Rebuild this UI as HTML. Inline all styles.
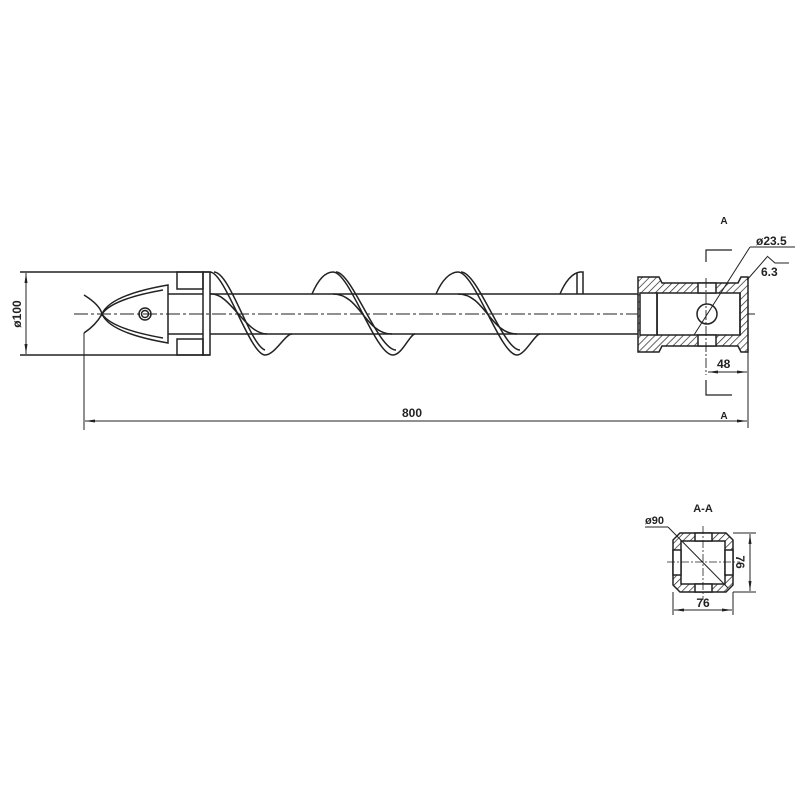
<!DOCTYPE html>
<html><head><style>body{margin:0;background:#fff}svg{display:block}</style></head><body>
<svg width="800" height="800" viewBox="0 0 800 800" xmlns="http://www.w3.org/2000/svg" font-family="Liberation Sans, sans-serif">
<defs>
<pattern id="h" width="5" height="5" patternUnits="userSpaceOnUse" patternTransform="rotate(45)"><rect width="5" height="5" fill="#fff"/><line x1="0" y1="0" x2="0" y2="5" stroke="#222" stroke-width="1.4"/></pattern>
<marker id="a" markerWidth="10" markerHeight="6" refX="10" refY="3" orient="auto-start-reverse" markerUnits="userSpaceOnUse"><path d="M0,1.5 L10,3 L0,4.5" fill="#222"/></marker>
</defs>
<g stroke="#222" stroke-width="1.5" fill="none">
<line x1="74" y1="314" x2="755" y2="314" stroke-dasharray="14,3,3,3" stroke-width="0.9"/>
<line x1="20" y1="272" x2="210" y2="272"/>
<line x1="20" y1="355" x2="210" y2="355"/>
<line x1="26" y1="273" x2="26" y2="354" marker-start="url(#a)" marker-end="url(#a)" stroke-width="1"/>
<path d="M84,295 Q100,305 102,314 Q110,295 168,285 L168,343 Q110,333 102,314 Q96,325 84,333"/>
<path d="M102,314 Q112,299 163,290 M102,314 Q112,329 163,338"/>
<circle cx="145" cy="314" r="6"/><circle cx="145" cy="314" r="3.5"/>
<rect x="177" y="272" width="26" height="17"/>
<rect x="177" y="339" width="26" height="16"/>
<line x1="168" y1="294" x2="203" y2="294"/><line x1="168" y1="334" x2="203" y2="334"/>
<rect x="203" y="272" width="7" height="83"/>
<line x1="210" y1="294" x2="638" y2="294"/><line x1="210" y1="334" x2="638" y2="334"/>
<path d="M210,272 C225,272 250,355 265,355 C275,355 285,334 292,334"/>
<path d="M214,272 C230,272 250,345 265,350"/>
<path d="M210,294 C230,292 245,334 267,334"/>
<path d="M312,294 C318,280 325,272 333,272 C350,272 375,355 393,355 C402,355 410,334 415,334"/>
<path d="M336,272 C352,272 378,350 396,350"/>
<path d="M333,294 C360,294 365,334 392,334"/>
<path d="M436,294 C442,280 450,272 458,272 C475,272 500,355 517,355 C525,355 535,334 540,334"/>
<path d="M461,272 C478,272 503,350 520,350"/>
<path d="M458,294 C485,294 490,334 517,334"/>
<path d="M560,294 C565,282 572,273 580,272 L583,272 L583,294 M577,273 L577,294"/>
<path d="M638,277 L659,277 L662,283 L738,283 L741,277 L748,277 L748,352 L741,352 L738,346 L662,346 L659,352 L638,352 Z" fill="url(#h)"/>
<rect x="657" y="293" width="83" height="42" fill="#fff"/>
<rect x="640" y="293" width="17" height="42" fill="#fff"/>
<line x1="657" y1="293" x2="657" y2="335"/>
<rect x="698" y="283" width="18" height="10" fill="#fff"/>
<rect x="698" y="335" width="18" height="11" fill="#fff"/>
<line x1="740" y1="293" x2="740" y2="335"/>
<circle cx="707" cy="314" r="10"/>
<line x1="706" y1="278" x2="706" y2="375" stroke-dasharray="10,2,2,2" stroke-width="0.9"/>
<line x1="694" y1="335" x2="750" y2="247" stroke-width="1"/>
<line x1="750" y1="247" x2="795" y2="247" stroke-width="1"/>
<line x1="747" y1="280" x2="767" y2="257" stroke-width="1"/>
<path d="M767,256 L775,263 L789,263" stroke-width="1"/>
<path d="M706,262 L706,250 L732,250" stroke-width="1.2"/>
<path d="M706,380 L706,395 L732,395" stroke-width="1.2"/>
<line x1="748" y1="352" x2="748" y2="428" stroke-width="1"/>
<line x1="84" y1="333" x2="84" y2="430" stroke-width="1"/>
<line x1="708" y1="372" x2="747" y2="372" marker-start="url(#a)" marker-end="url(#a)" stroke-width="1"/>
<line x1="85" y1="421" x2="747" y2="421" marker-start="url(#a)" marker-end="url(#a)" stroke-width="1"/>
<path d="M680,533 L726,533 L733,540 L733,585 L726,592 L680,592 L673,585 L673,540 Z" fill="url(#h)"/>
<rect x="681" y="541" width="44" height="43" fill="#fff"/>
<rect x="695" y="533" width="17" height="8" fill="#fff"/>
<rect x="695" y="584" width="17" height="8" fill="#fff"/>
<rect x="673" y="550" width="8" height="25" fill="#fff"/>
<rect x="725" y="550" width="8" height="25" fill="#fff"/>
<line x1="703" y1="526" x2="703" y2="600" stroke-dasharray="8,2,2,2" stroke-width="0.8"/>
<line x1="667" y1="562" x2="740" y2="562" stroke-dasharray="8,2,2,2" stroke-width="0.8"/>
<line x1="645" y1="527" x2="668" y2="527" stroke-width="1"/>
<line x1="668" y1="527" x2="728" y2="588" stroke-width="1"/>
<line x1="733" y1="533" x2="756" y2="533" stroke-width="1"/>
<line x1="733" y1="592" x2="756" y2="592" stroke-width="1"/>
<line x1="750" y1="534" x2="750" y2="591" marker-start="url(#a)" marker-end="url(#a)" stroke-width="1"/>
<line x1="673" y1="592" x2="673" y2="615" stroke-width="1"/>
<line x1="733" y1="592" x2="733" y2="615" stroke-width="1"/>
<line x1="674" y1="610" x2="732" y2="610" marker-start="url(#a)" marker-end="url(#a)" stroke-width="1"/>
</g>
<g fill="#222" font-size="12" font-weight="bold">
<text x="21" y="314" transform="rotate(-90 21 314)" text-anchor="middle">ø100</text>
<text x="412" y="417" text-anchor="middle">800</text>
<text x="724" y="419" text-anchor="middle" font-size="10">A</text>
<text x="724" y="224" text-anchor="middle" font-size="10">A</text>
<text x="756" y="245">ø23.5</text>
<text x="761" y="276">6.3</text>
<text x="717" y="368">48</text>
<text x="703" y="512" text-anchor="middle" font-size="11">A-A</text>
<text x="645" y="524" font-size="11">ø90</text>
<text x="703" y="607" text-anchor="middle">76</text>
<text x="736" y="562" transform="rotate(90 736 562)" text-anchor="middle">76</text>
</g>
</svg>
</body></html>
